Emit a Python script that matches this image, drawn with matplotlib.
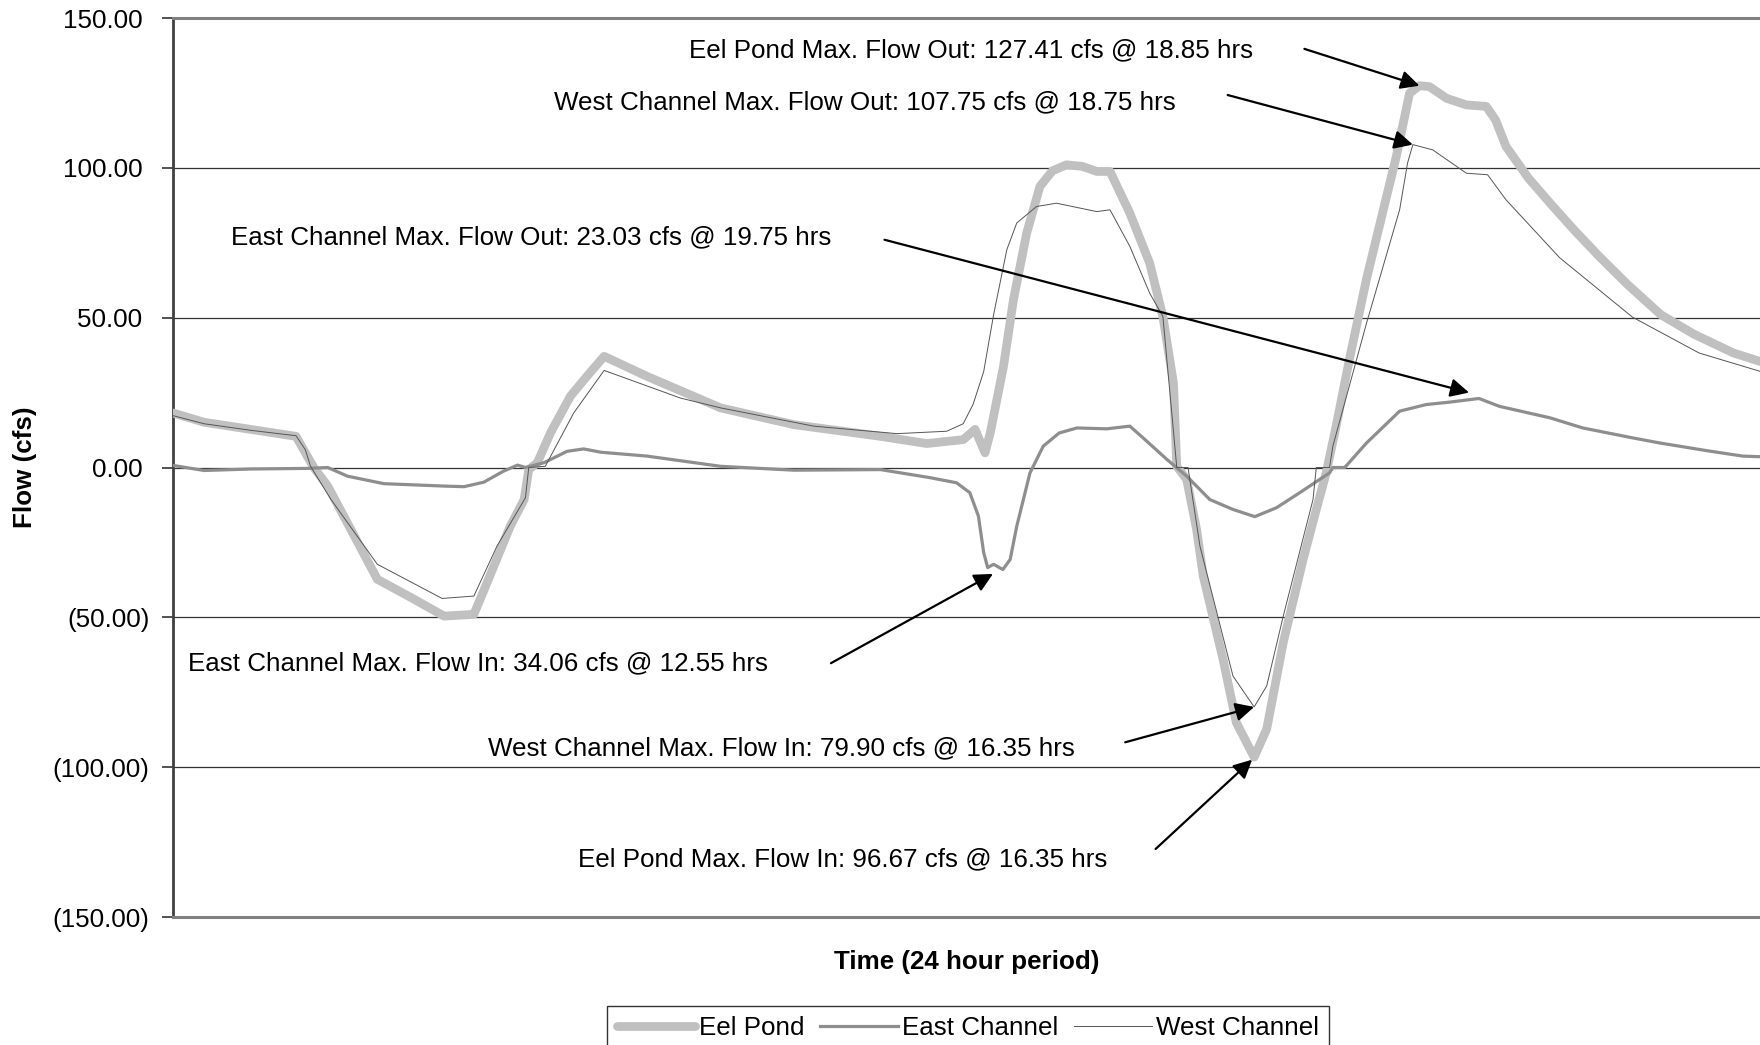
import numpy as np
import matplotlib.pyplot as plt
from matplotlib.ticker import FuncFormatter

plt.rcParams['font.family'] = ['Liberation Sans', 'DejaVu Sans']

# Eel Pond flow (hrs, cfs)
eel_t = [0, 0.47, 1.18, 1.86, 2.03, 2.13, 2.34, 2.69, 3.09, 3.6, 4.1, 4.55, 4.75,
         5.1, 5.31, 5.38, 5.51, 5.71, 6.01, 6.3, 6.52, 7.17, 8.28, 9.39, 10.7,
         11.4, 11.95, 12.13, 12.28, 12.36, 12.56, 12.71, 12.91, 13.11, 13.3, 13.51,
         13.75, 13.97, 14.17, 14.47, 14.77, 14.97, 15.13, 15.18, 15.33, 15.48,
         15.58, 15.88, 16.08, 16.35, 16.54, 16.79, 17.09, 17.29, 17.44, 17.59,
         17.79, 18.05, 18.5, 18.7, 18.85, 19.0, 19.26, 19.56, 19.86, 20.0, 20.16,
         20.5, 20.87, 21.2, 21.57, 22.0, 22.5, 23.0, 23.6, 24.0]
eel_q = [18.2, 15.1, 12.7, 10.4, 3.8, 0, -6.2, -20.7, -37.3, -43.4, -49.6, -49, -38.4,
         -19.6, -10.7, -0.7, 1.6, 11.6, 23.8, 31.5, 37.1, 30.4, 19.9, 14.3, 10.4,
         8, 9.3, 12.7, 4.9, 11.6, 33.8, 56, 78.2, 93.8, 99, 101,
         100.5, 98.8, 98.8, 84.9, 68.2, 50.4, 28.2, 0.4, -4, -20.7,
         -36.2, -64, -85.1, -96.67, -87.3, -58.4, -30.7, -14, -1.8, 13.8,
         36, 63, 103.8, 124.9, 127.41, 127.1, 123.2, 121, 120.5, 116, 107.1,
         96.5, 87.1, 79, 70.4, 61, 51, 44.5, 38.2, 35.4]

# East Channel flow
east_t = [0, 0.47, 1.18, 2.03, 2.34, 2.64, 3.19, 4.1, 4.4, 4.7, 5.0, 5.21, 5.33,
          5.61, 5.96, 6.21, 6.47, 7.17, 8.28, 9.39, 10.7, 11.45, 11.85, 12.05,
          12.18, 12.26, 12.32, 12.41, 12.55, 12.66, 12.76, 12.96, 13.16, 13.4,
          13.67, 14.12, 14.47, 14.67, 15.03, 15.33, 15.68, 16.03, 16.36, 16.69,
          17.04, 17.34, 17.49, 17.54, 17.72, 18.05, 18.55, 18.95, 19.3, 19.75,
          20.06, 20.82, 21.32, 22.07, 22.48, 23.2, 23.74, 24.0]
east_q = [0.7, -1, -0.5, -0.3, 0, -2.9, -5.4, -6.2, -6.4, -4.9, -1.2, 0.8, 0,
          1.6, 5.4, 6.2, 5.1, 3.8, 0.4, -0.9, -0.7, -3.4, -5.1, -8.4,
          -16.2, -28.4, -33.4, -32.3, -34.06, -30.7, -19.6, -1.8, 7.1, 11.5,
          13.2, 12.9, 13.8, 9.9, 2.7, -2.9, -10.7, -14, -16.4, -13.4,
          -8.4, -4, -1.8, 0, 0, 8.2, 18.8, 21, 21.8, 23.03,
          20.4, 16.6, 13.2, 9.9, 8.2, 5.6, 3.8, 3.6]

# West Channel flow
west_t = [0, 0.47, 1.18, 1.86, 2.0, 2.08, 2.39, 3.09, 4.07, 4.55, 4.9, 5.33, 5.38,
          5.63, 6.06, 6.52, 7.67, 8.28, 9.69, 10.95, 11.7, 11.95, 12.1, 12.26,
          12.41, 12.61, 12.76, 13.06, 13.36, 13.97, 14.17, 14.47, 14.77, 14.97,
          15.18, 15.35, 15.53, 16.03, 16.35, 16.54, 16.79, 17.24, 17.29, 17.49,
          17.54, 18.05, 18.55, 18.67, 18.75, 19.05, 19.56, 19.88, 20.16, 20.97,
          22.07, 23.08, 24.0]
west_q = [17.3, 14.6, 12.4, 10.6, 6, 0.4, -10.7, -32.3, -43.7, -42.9, -26.2, -10.1, 0,
          0.4, 18.2, 32.4, 23.2, 19.9, 13.8, 11.3, 12.1, 14.6, 21.1, 32,
          51, 72.7, 81.6, 87.1, 88.2, 85.4, 86, 73.8, 58.2, 50.4,
          0, 0, -26.2, -69.6, -79.9, -72.9, -49.6, -10.7, 0, 0,
          7.1, 48.2, 86, 101.6, 107.75, 106, 98.2, 97.7, 89.3, 70,
          50.2, 38.2, 32.1]

yticks = [-150, -100, -50, 0, 50, 100, 150]

# (text, text x, text y, arrow tail x, tail y, head x, head y)
notes = [
    ("Eel Pond Max. Flow Out: 127.41 cfs @ 18.85 hrs", 7.81, 139.2, 17.11, 139.7, 18.85, 127.41),
    ("West Channel Max. Flow Out: 107.75 cfs @ 18.75 hrs", 5.76, 122.0, 15.95, 124.3, 18.75, 107.75),
    ("East Channel Max. Flow Out: 23.03 cfs @ 19.75 hrs", 0.88, 76.7, 10.76, 76.0, 19.6, 25.0),
    ("East Channel Max. Flow In: 34.06 cfs @ 12.55 hrs", 0.23, -65.3, 9.95, -65.3, 12.4, -35.5),
    ("West Channel Max. Flow In: 79.90 cfs @ 16.35 hrs", 4.76, -93.7, 14.4, -91.7, 16.35, -79.9),
    ("Eel Pond Max. Flow In: 96.67 cfs @ 16.35 hrs", 6.12, -130.7, 14.86, -127.3, 16.32, -97.5),
]

fs = 18.7

fig = plt.figure(figsize=(17.6, 10.45), dpi=100)
ax = fig.add_axes([173 / 1760, 128 / 1045, 1587 / 1760, 899 / 1045])

ax.plot(eel_t, eel_q, color='#c0c0c0', lw=6.3, solid_joinstyle='round',
        solid_capstyle='round', label='Eel Pond', zorder=3)
ax.plot(east_t, east_q, color='#8e8e8e', lw=2.3, label='East Channel', zorder=4)
ax.plot(west_t, west_q, color='#555555', lw=0.7, label='West Channel', zorder=5)

ax.set_xlim(0, 24)
ax.set_ylim(-150, 150)
ax.set_yticks(yticks)
ax.yaxis.set_major_formatter(FuncFormatter(
    lambda v, p: f"({abs(v):.2f})" if v < 0 else f"{v:.2f} "))
ax.set_xticks([])
ax.tick_params(axis='y', length=8, width=1.2, color='#333333', pad=9, labelsize=fs)

for y in yticks[1:-1]:
    ax.axhline(y, color='#333333', lw=0.9, zorder=1)

ax.spines['left'].set_color('#404040')
ax.spines['left'].set_linewidth(2)
ax.spines['bottom'].set_color('#808080')
ax.spines['bottom'].set_linewidth(2.2)
ax.spines['top'].set_color('#808080')
ax.spines['top'].set_linewidth(2.2)
ax.spines['right'].set_visible(False)

ax.set_ylabel('Flow (cfs)', fontsize=fs, fontweight='bold')
ax.yaxis.set_label_coords(-0.093, 0.5)
ax.yaxis.label.set_va('center')
ax.set_xlabel('Time (24 hour period)', fontsize=fs, fontweight='bold')
ax.xaxis.set_label_coords(0.5, -0.05)
ax.xaxis.label.set_va('center')

for txt, tx, ty, ax0, ay0, hx, hy in notes:
    ax.text(tx, ty, txt, fontsize=fs, ha='left', va='center', zorder=6)
    ax.annotate('', xy=(hx, hy), xytext=(ax0, ay0),
                arrowprops=dict(arrowstyle='-|>', color='black', lw=1.6,
                                mutation_scale=28, shrinkA=0, shrinkB=0),
                zorder=6)

leg = ax.legend(loc='center', bbox_to_anchor=(0.55, 0.016), bbox_transform=fig.transFigure,
                ncol=3, fontsize=fs, frameon=True, fancybox=False, handlelength=3.0,
                handletextpad=0.15, columnspacing=0.6, borderpad=0.4)
leg.get_frame().set_edgecolor('black')
leg.get_frame().set_linewidth(1.0)

fig.savefig('out.png', dpi=100)
